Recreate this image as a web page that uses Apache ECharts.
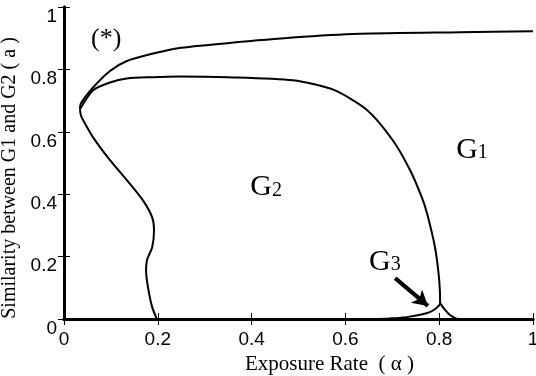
<!DOCTYPE html>
<html><head><meta charset="utf-8">
<script src="https://cdn.jsdelivr.net/npm/echarts@6/dist/echarts.min.js"></script>
<style>html,body{margin:0;padding:0;background:#fff}#c{width:536px;height:376px}</style>
</head><body><div id="c"></div>
<script>
// Boundary curves as [alpha, a] pairs
const upperCurve = [[0.034,0.672],[0.036,0.691],[0.062,0.742],[0.098,0.795],[0.134,0.827],[0.190,0.851],[0.243,0.868],[0.348,0.884],[0.488,0.902],[0.631,0.914],[0.844,0.919],[1.0,0.922]];
const innerCurve = [[0.034,0.672],[0.062,0.733],[0.098,0.758],[0.134,0.771],[0.190,0.775],[0.243,0.777],[0.348,0.775],[0.488,0.765],[0.574,0.735],[0.646,0.670],[0.701,0.573],[0.738,0.477],[0.763,0.390],[0.774,0.339],[0.791,0.230],[0.800,0.125],[0.802,0.051],[0.780,0.022],[0.731,0.006],[0.695,0.002],[0.650,0.0]];
const rightBranch = [[0.802,0.051],[0.812,0.030],[0.823,0.013],[0.838,0.0]];
const lowerCurve = [[0.034,0.672],[0.036,0.653],[0.041,0.637],[0.062,0.582],[0.098,0.509],[0.134,0.445],[0.168,0.381],[0.188,0.326],[0.192,0.285],[0.188,0.230],[0.177,0.189],[0.175,0.157],[0.179,0.102],[0.188,0.038],[0.198,0.0]];
const xTicks = [0,0.2,0.4,0.6,0.8,1];
const yTicks = [0,0.2,0.4,0.6,0.8,1];
const regionLabels = [
  {name:'(*)', coord:[0.09,0.896]},
  {name:'G2', coord:[0.431,0.422]},
  {name:'G1', coord:[0.870,0.541]},
  {name:'G3', coord:[0.684,0.182]}
];
const arrowFrom = [0.706,0.131];
const arrowTo = [0.776,0.042];

const chart = echarts.init(document.getElementById('c'), null, {renderer:'canvas'});
const sans = 'Liberation Sans';
const serif = 'Liberation Serif';
const axisLine = {show:true, lineStyle:{color:'#000', width:3}};
const tick = {show:true, inside:true, length:6, lineStyle:{color:'#000', width:1}};
const lineStyle = {color:'#000', width:2};
function lineSeries(data){
  return {type:'line', data:data, showSymbol:false, symbol:'none', smooth:0.25, lineStyle:lineStyle, silent:true, animation:false, z:3};
}
const labelSeries = {
  type:'scatter', data:[], silent:true, animation:false,
  markPoint:{
    symbol:'circle', symbolSize:0, animation:false,
    data: regionLabels.map(l=>{
      let fmt;
      if(l.name==='(*)') fmt='{p|(*)}';
      else fmt='{g|G}{s|'+l.name.slice(1)+'}';
      return {coord:l.coord, value:l.name, label:{show:true, position:'inside', formatter:fmt,
        rich:{p:{fontFamily:serif, fontSize:26, color:'#000'}, g:{fontFamily:serif, fontSize:30, color:'#000', verticalAlign:'bottom'}, s:{fontFamily:serif, fontSize:20, color:'#000', verticalAlign:'bottom', padding:[0,0,2,0]}}}};
    })
  },
  markLine:{
    silent:true, animation:false, symbol:['none','arrow'], symbolSize:[13,15],
    lineStyle:{color:'#000', width:4, type:'solid'}, label:{show:false},
    data:[[{coord:arrowFrom},{coord:arrowTo}]]
  }
};
chart.setOption({
  animation:false,
  backgroundColor:'#fff',
  grid:{left:64, right:3, top:7, bottom:57, containLabel:false, outerBoundsMode:'none'},
  xAxis:[{
    type:'value', min:xTicks[0], max:xTicks[xTicks.length-1], interval:0.2, position:'bottom',
    axisLine:axisLine, axisTick:tick, splitLine:{show:false},
    axisLabel:{color:'#000', fontFamily:sans, fontSize:19, margin:11},
    name:'Exposure Rate  ( α )', nameLocation:'middle', nameGap:33,
    nameTextStyle:{fontFamily:serif, fontSize:21, color:'#000', padding:[0,0,0,62]}
  },{
    type:'value', min:0, max:1, interval:0.2, position:'top',
    axisLine:axisLine, axisTick:tick, axisLabel:{show:false}, splitLine:{show:false}
  }],
  yAxis:[{
    type:'value', min:yTicks[0], max:yTicks[yTicks.length-1], interval:0.2, position:'left',
    axisLine:axisLine, axisTick:tick, splitLine:{show:false},
    axisLabel:{color:'#000', fontFamily:sans, fontSize:19, margin:7, verticalAlign:'top'},
    name:'Similarity between G1 and G2 ( a )', nameLocation:'middle', nameGap:28, nameRotate:90,
    nameTextStyle:{fontFamily:serif, fontSize:20, color:'#000', padding:[0,30,0,0]}
  },{
    type:'value', min:0, max:1, interval:0.2, position:'right',
    axisLine:axisLine, axisTick:tick, axisLabel:{show:false}, splitLine:{show:false}
  }],
  series:[lineSeries(upperCurve), lineSeries(innerCurve), lineSeries(rightBranch), lineSeries(lowerCurve), labelSeries]
});
</script></body></html>
